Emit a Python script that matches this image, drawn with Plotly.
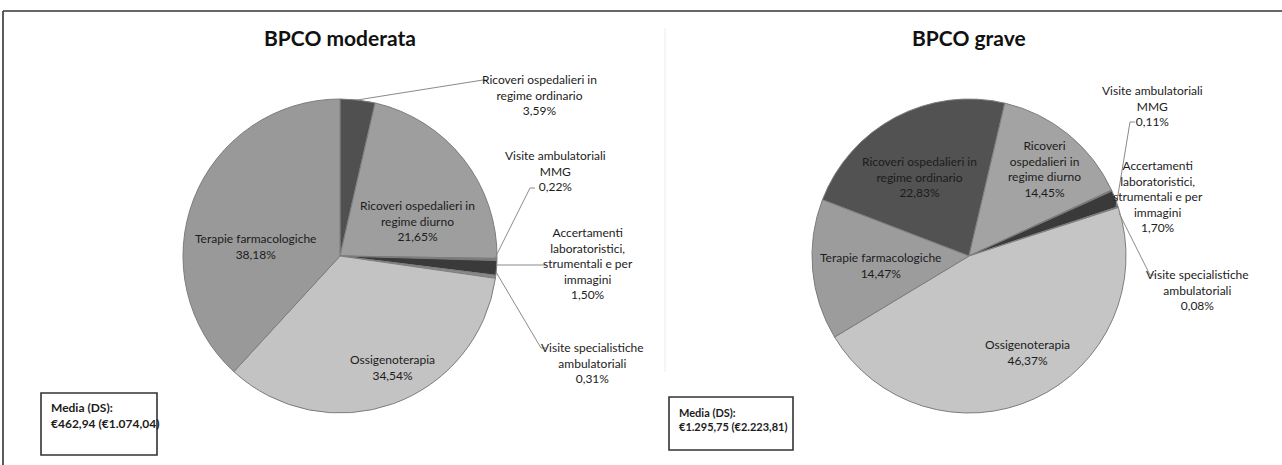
import plotly.graph_objects as go

# ---------------- data ----------------
categories = [
    "Ricoveri ospedalieri in regime ordinario",
    "Ricoveri ospedalieri in regime diurno",
    "Visite ambulatoriali MMG",
    "Accertamenti laboratoristici, strumentali e per immagini",
    "Visite specialistiche ambulatoriali",
    "Ossigenoterapia",
    "Terapie farmacologiche",
]
values_moderata = [3.59, 21.65, 0.22, 1.50, 0.31, 34.54, 38.18]
values_grave = [22.83, 14.45, 0.11, 1.70, 0.08, 46.37, 14.47]

labels_moderata = [
    "Ricoveri ospedalieri in<br>regime ordinario",
    "Ricoveri ospedalieri in<br>regime diurno",
    "Visite ambulatoriali<br>MMG",
    "Accertamenti<br>laboratoristici,<br>strumentali e per<br>immagini",
    "Visite specialistiche<br>ambulatoriali",
    "Ossigenoterapia",
    "Terapie farmacologiche",
]
labels_grave = [
    "Ricoveri ospedalieri in<br>regime ordinario",
    "Ricoveri<br>ospedalieri in<br>regime diurno",
    "Visite ambulatoriali<br>MMG",
    "Accertamenti<br>laboratoristici,<br>strumentali e per<br>immagini",
    "Visite specialistiche<br>ambulatoriali",
    "Ossigenoterapia",
    "Terapie farmacologiche",
]
titles = ["BPCO moderata", "BPCO grave"]
media_texts = ["Media (DS):<br>€462,94 (€1.074,04)", "Media (DS):<br>€1.295,75 (€2.223,81)"]

# ---------------- layout helpers ----------------
W, H = 1282, 465
def X(px):
    return px / W
def Y(py):
    return 1 - py / H

colors_moderata = ["#505050", "#9e9e9e", "#7a7a7a", "#3a3a3a", "#8a8a8a", "#c3c3c3", "#999999"]
colors_grave = ["#525252", "#a3a3a3", "#7a7a7a", "#3a3a3a", "#8a8a8a", "#c5c5c5", "#9c9c9c"]

LABEL_FONT = "Lato, Liberation Sans, sans-serif"
TITLE_FONT = "Lato, Liberation Sans, sans-serif"

pies = [
    dict(values=values_moderata, labels=labels_moderata, colors=colors_moderata,
         cx=340, cy=256, r=157, rotation=0,
         label_pos=[(539, 95), (418, 221), (555, 171), (588, 263), (592, 363), (392, 367), (255, 246)],
         leaders=[[(357, 100), (483, 80), (488, 80)],
                  [(495, 258), (530, 188), (535, 188)],
                  [(497, 265), (546, 265)],
                  [(496, 272), (541, 348), (546, 348)]],
         title_xy=(340, 37), box=(41, 393, 157, 455), box_text=(49, 415), box_font=12),
    dict(values=values_grave, labels=labels_grave, colors=colors_grave,
         cx=969, cy=256, r=157, rotation=-69,
         label_pos=[(919, 177), (1044, 169), (1152, 106), (1158, 196), (1197, 290), (1027, 352), (880, 265)],
         leaders=[[(1116, 207), (1130, 122), (1135, 122)],
                  [(1119, 213), (1150, 275), (1155, 275)]],
         title_xy=(969, 37), box=(669, 397, 793, 450), box_text=(677, 419), box_font=11),
]

fig = go.Figure()
annotations = []
shapes = []

for i, p in enumerate(pies):
    cx, cy, r = p["cx"], p["cy"], p["r"]
    fig.add_trace(go.Pie(
        labels=categories, values=p["values"], sort=False, direction="clockwise",
        rotation=p["rotation"], textinfo="none", hoverinfo="label+percent",
        marker=dict(colors=p["colors"], line=dict(color="#7d7d7d", width=1)),
        domain=dict(x=[X(cx - r), X(cx + r)], y=[Y(cy + r), Y(cy - r)]),
        showlegend=False,
    ))
    for lab, val, (lx, ly) in zip(p["labels"], p["values"], p["label_pos"]):
        txt = lab + "<br>" + f"{val:.2f}".replace(".", ",") + "%"
        annotations.append(dict(
            x=X(lx), y=Y(ly), xref="paper", yref="paper", text=txt, showarrow=False,
            xanchor="center", yanchor="middle", align="center",
            font=dict(family=LABEL_FONT, size=12, color="#1c1c1c"),
        ))
    for pts in p["leaders"]:
        for (x0, y0), (x1, y1) in zip(pts[:-1], pts[1:]):
            shapes.append(dict(type="line", xref="paper", yref="paper",
                               x0=X(x0), y0=Y(y0), x1=X(x1), y1=Y(y1),
                               line=dict(color="#8a8a8a", width=1)))
    tx, ty = p["title_xy"]
    annotations.append(dict(
        x=X(tx), y=Y(ty), xref="paper", yref="paper", text="<b>" + titles[i] + "</b>",
        showarrow=False, xanchor="center", yanchor="middle",
        font=dict(family=TITLE_FONT, size=21, color="#111111"),
    ))
    bx0, by0, bx1, by1 = p["box"]
    shapes.append(dict(type="rect", xref="paper", yref="paper",
                       x0=X(bx0), y0=Y(by1), x1=X(bx1), y1=Y(by0),
                       line=dict(color="#333333", width=1.6), fillcolor="rgba(0,0,0,0)"))
    mtx, mty = p["box_text"]
    annotations.append(dict(
        x=X(mtx), y=Y(mty), xref="paper", yref="paper", text="<b>" + media_texts[i] + "</b>",
        showarrow=False, xanchor="left", yanchor="middle", align="left",
        font=dict(family=LABEL_FONT, size=p["box_font"], color="#1c1c1c"),
    ))

# outer frame (top and left) and faint separator
shapes.append(dict(type="line", xref="paper", yref="paper", x0=X(3), y0=Y(11), x1=X(1282), y1=Y(11),
                   line=dict(color="#333333", width=1.6)))
shapes.append(dict(type="line", xref="paper", yref="paper", x0=X(3), y0=Y(11), x1=X(3), y1=Y(465),
                   line=dict(color="#333333", width=1.6)))
shapes.append(dict(type="line", xref="paper", yref="paper", x0=X(665), y0=Y(28), x1=X(665), y1=Y(372),
                   line=dict(color="#ececec", width=1)))

fig.update_layout(
    width=W, height=H, margin=dict(l=0, r=0, t=0, b=0),
    paper_bgcolor="white", plot_bgcolor="white",
    annotations=annotations, shapes=shapes,
)

fig.write_html("out.html")
